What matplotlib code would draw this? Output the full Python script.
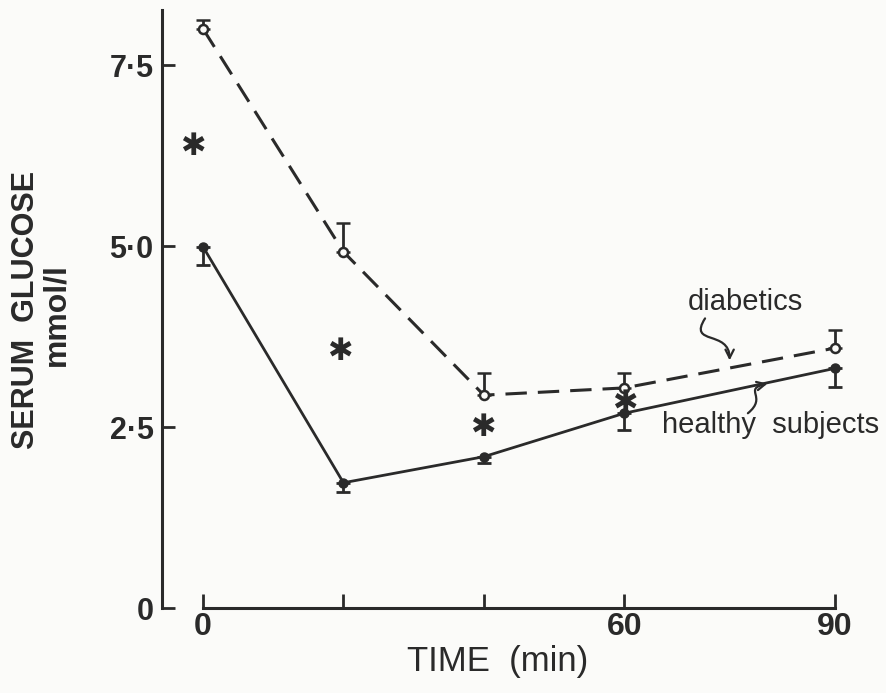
import matplotlib
matplotlib.use("Agg")
import matplotlib.pyplot as plt
from matplotlib.path import Path
from matplotlib.patches import FancyArrowPatch

# serum glucose after the load, mean and one-sided SEM
time = [0, 20, 40, 60, 90]
diab = [8.00, 4.92, 2.94, 3.04, 3.59]
diab_err = [0.12, 0.40, 0.31, 0.21, 0.25]
healthy = [4.99, 1.73, 2.09, 2.69, 3.31]
healthy_err = [0.25, 0.13, 0.09, 0.23, 0.26]

# significance stars
sig_t = [-1.4, 19.5, 39.8, 60.0]
sig_y = [6.37, 3.54, 2.49, 2.83]

yticks = [0, 2.5, 5.0, 7.5]
ylabels = ["0", "2·5", "5·0", "7·5"]
xticks = [0, 20, 40, 60, 90]
xlabels = ["0", "", "", "60", "90"]

ink = "#2a2a2a"
paper = "#fbfbf9"
narrow = ["Liberation Sans Narrow", "Liberation Sans", "DejaVu Sans"]
sans = ["Liberation Sans", "DejaVu Sans"]

fig = plt.figure(figsize=(8.86, 6.93), dpi=100, facecolor=paper)
ax = fig.add_axes([162 / 886, 85 / 693, 687 / 886, 598 / 693], facecolor=paper)
ax.set_xlim(-5.84, 92)
ax.set_ylim(0, 8.26)

ax.errorbar(time, diab, yerr=[[0] * 5, diab_err], color=ink, lw=2.2,
            ls=(0, (7, 3.6)), marker="o", ms=6.5, mfc=paper, mec=ink, mew=1.8,
            ecolor=ink, elinewidth=2.0, capsize=5, capthick=2.0, zorder=3)
ax.errorbar(time, healthy, yerr=[healthy_err, [0] * 5], color=ink, lw=2.0,
            marker="o", ms=6.5, mfc=ink, mec=ink,
            ecolor=ink, elinewidth=2.0, capsize=5, capthick=2.0, zorder=3)

for t, y in zip(sig_t, sig_y):
    ax.text(t, y, "✱", ha="center", va="center", fontsize=22, color=ink,
            family="DejaVu Sans", zorder=4)

ax.text(77.3, 4.22, "diabetics", ha="center", va="center", fontsize=21,
        color=ink, family=sans)
ax.text(80.8, 2.53, "healthy  subjects", ha="center", va="center", fontsize=21,
        color=ink, family=sans)

# little hand-drawn style pointers to each curve
for verts in ([(71.5, 4.0), (69.0, 3.62), (75.0, 3.85), (75.0, 3.42)],
              [(77.6, 2.69), (80.5, 2.92), (76.8, 3.02), (80.4, 3.10)]):
    p = Path(verts, [Path.MOVETO, Path.CURVE4, Path.CURVE4, Path.CURVE4])
    ax.add_patch(FancyArrowPatch(path=p, arrowstyle="->,head_length=6,head_width=3",
                                 color=ink, lw=1.6, zorder=4))

for s in ["top", "right"]:
    ax.spines[s].set_visible(False)
for s in ["left", "bottom"]:
    ax.spines[s].set_color(ink)
    ax.spines[s].set_linewidth(2.2)
ax.spines["bottom"].set_bounds(0, 90)

ax.set_yticks(yticks)
ax.set_yticklabels(ylabels)
ax.set_xticks(xticks)
ax.set_xticklabels(xlabels)
ax.tick_params(axis="y", direction="in", length=9, width=2.0, color=ink, pad=6,
               labelsize=22, labelcolor=ink)
ax.tick_params(axis="x", direction="in", length=10, width=2.0, color=ink, pad=3,
               labelsize=23, labelcolor=ink)
for lab in ax.get_yticklabels():
    lab.set_family(sans)
    lab.set_fontweight("bold")
for lab in ax.get_xticklabels():
    lab.set_family(narrow)
    lab.set_fontweight("bold")

fig.text(498 / 886, 1 - 662 / 693, "TIME  (min)", ha="center", va="center",
         fontsize=25, color=ink, family=narrow)
fig.text(26 / 886, 1 - 310 / 693, "SERUM  GLUCOSE", ha="center", va="center",
         rotation=90, fontsize=22, fontweight="bold", color=ink, family=sans)
fig.text(56 / 886, 1 - 315 / 693, "mmol/l", ha="center", va="center",
         rotation=90, fontsize=23, fontweight="bold", color=ink, family=sans)

fig.savefig("out.png", dpi=100, facecolor=paper)
